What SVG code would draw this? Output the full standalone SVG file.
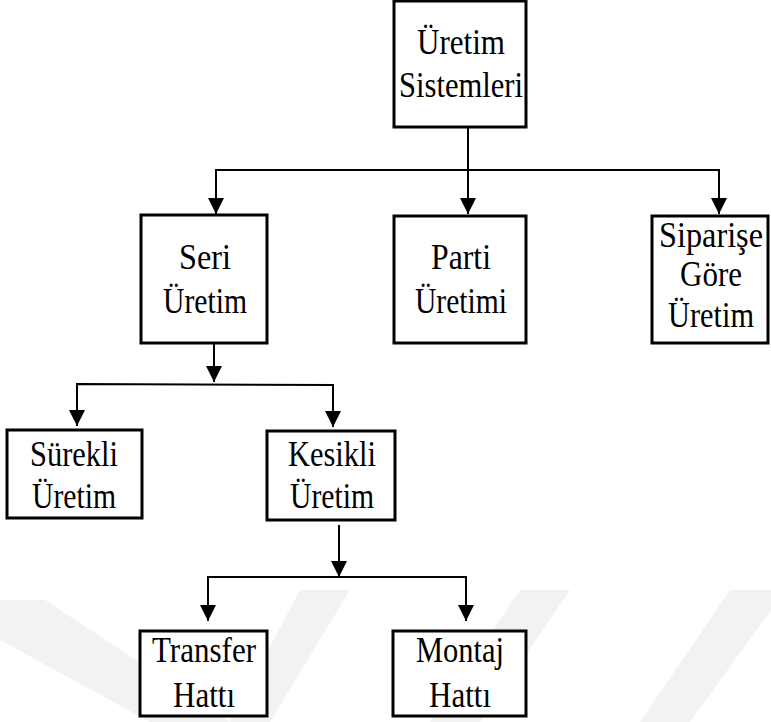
<svg xmlns="http://www.w3.org/2000/svg" width="771" height="722" viewBox="0 0 771 722">
  <style>
    .box { fill: #ffffff; stroke: #000000; stroke-width: 3; }
    .lbl { font-family: "Liberation Serif", "Times New Roman", Times, serif; font-size: 35px; fill: #000000; text-anchor: middle; }
    .wire { fill: none; stroke: #000000; stroke-width: 2; }
    .mark { fill: #f2f2f2; }
  </style>
  <defs>
    <marker id="arrow" viewBox="0 0 16 16" refX="16" refY="8" markerWidth="16" markerHeight="16" markerUnits="userSpaceOnUse" orient="auto">
      <path d="M0,0 L16,8 L0,16 z" fill="#000000"/>
    </marker>
  </defs>

  <rect width="771" height="722" fill="#ffffff"/>

  <!-- faint background chevrons -->
  <g id="backdrop">
    <polygon class="mark" points="0,600 45,600 230,722 150,722 0,640"/>
    <polygon class="mark" points="300,590 350,590 270,722 230,722"/>
    <polygon class="mark" points="520,590 570,590 480,722 430,722"/>
    <polygon class="mark" points="730,590 771,590 771,610 690,722 640,722"/>
  </g>

  <g id="connectors">
    <line class="wire" x1="468" y1="127" x2="468" y2="214" marker-end="url(#arrow)"/>
    <polyline class="wire" points="216,214 216,170 719,170 719,214" marker-end="url(#arrow)"/>
    <line class="wire" x1="216" y1="170" x2="216" y2="214" marker-end="url(#arrow)"/>
    <line class="wire" x1="214" y1="343" x2="214" y2="382" marker-end="url(#arrow)"/>
    <polyline class="wire" points="77,426 77,384 333,385 333,427" marker-end="url(#arrow)"/>
    <line class="wire" x1="77" y1="384" x2="77" y2="426" marker-end="url(#arrow)"/>
    <line class="wire" x1="339" y1="525" x2="339" y2="577" marker-end="url(#arrow)"/>
    <polyline class="wire" points="208,621 208,577 466,577 466,621" marker-end="url(#arrow)"/>
    <line class="wire" x1="208" y1="577" x2="208" y2="621" marker-end="url(#arrow)"/>
  </g>

  <g id="uretim-sistemleri">
    <rect class="box" x="394" y="1" width="132" height="126"/>
    <text class="lbl" x="461" y="54" textLength="88" lengthAdjust="spacingAndGlyphs">Üretim</text>
    <text class="lbl" x="461" y="97" textLength="124" lengthAdjust="spacingAndGlyphs">Sistemleri</text>
  </g>

  <g id="seri-uretim">
    <rect class="box" x="141" y="215" width="126" height="128"/>
    <text class="lbl" x="205" y="269" textLength="52" lengthAdjust="spacingAndGlyphs">Seri</text>
    <text class="lbl" x="205" y="313" textLength="84" lengthAdjust="spacingAndGlyphs">Üretim</text>
  </g>

  <g id="parti-uretimi">
    <rect class="box" x="394" y="216" width="132" height="127"/>
    <text class="lbl" x="461" y="269" textLength="60" lengthAdjust="spacingAndGlyphs">Parti</text>
    <text class="lbl" x="461" y="313" textLength="92" lengthAdjust="spacingAndGlyphs">Üretimi</text>
  </g>

  <g id="siparise-gore-uretim">
    <rect class="box" x="652" y="216" width="116" height="127"/>
    <text class="lbl" x="711" y="247" textLength="104" lengthAdjust="spacingAndGlyphs">Siparişe</text>
    <text class="lbl" x="711" y="286" textLength="62" lengthAdjust="spacingAndGlyphs">Göre</text>
    <text class="lbl" x="711" y="327" textLength="86" lengthAdjust="spacingAndGlyphs">Üretim</text>
  </g>

  <g id="surekli-uretim">
    <rect class="box" x="7" y="430" width="135" height="88"/>
    <text class="lbl" x="74" y="466" textLength="88" lengthAdjust="spacingAndGlyphs">Sürekli</text>
    <text class="lbl" x="74" y="508" textLength="84" lengthAdjust="spacingAndGlyphs">Üretim</text>
  </g>

  <g id="kesikli-uretim">
    <rect class="box" x="267" y="431" width="128" height="89"/>
    <text class="lbl" x="332" y="466" textLength="88" lengthAdjust="spacingAndGlyphs">Kesikli</text>
    <text class="lbl" x="332" y="508" textLength="84" lengthAdjust="spacingAndGlyphs">Üretim</text>
  </g>

  <g id="transfer-hatti">
    <rect class="box" x="140" y="631" width="127" height="85"/>
    <text class="lbl" x="204" y="662" textLength="104" lengthAdjust="spacingAndGlyphs">Transfer</text>
    <text class="lbl" x="204" y="707" textLength="62" lengthAdjust="spacingAndGlyphs">Hattı</text>
  </g>

  <g id="montaj-hatti">
    <rect class="box" x="393" y="631" width="133" height="85"/>
    <text class="lbl" x="460" y="662" textLength="88" lengthAdjust="spacingAndGlyphs">Montaj</text>
    <text class="lbl" x="460" y="707" textLength="62" lengthAdjust="spacingAndGlyphs">Hattı</text>
  </g>
</svg>
